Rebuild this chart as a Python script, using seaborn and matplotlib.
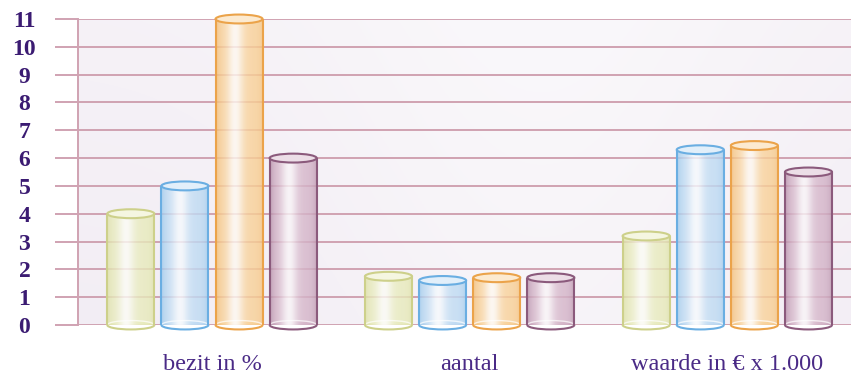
import numpy as np
import pandas as pd
import matplotlib
matplotlib.use('Agg')
import matplotlib.pyplot as plt
import seaborn as sns
from matplotlib.patches import Ellipse, Arc
from matplotlib.colors import to_rgb

CATEGORIES = ['bezit in %', 'aantal', 'waarde in € x 1.000']
SERIES = ['geel', 'blauw', 'oranje', 'paars']
VALUES_GEEL = [4.0, 1.75, 3.2]
VALUES_BLAUW = [5.0, 1.6, 6.3]
VALUES_ORANJE = [11.0, 1.7, 6.45]
VALUES_PAARS = [6.0, 1.7, 5.5]
Y_TICKS = list(range(0, 12))

FILL = ['#e8ebbc', '#bfdbf3', '#f9d197', '#d5b5c9']
EDGE = ['#cdd08a', '#6aaee2', '#eba34a', '#8b5a7c']
GRID = '#d0a2b2'
TEXT = '#3b1b72'
LABEL = '#4a2a86'

df = pd.DataFrame({
    'categorie': CATEGORIES * len(SERIES),
    'reeks': [s for s in SERIES for _ in CATEGORIES],
    'waarde': VALUES_GEEL + VALUES_BLAUW + VALUES_ORANJE + VALUES_PAARS,
})

sns.set_theme(style='white')
plt.rcParams['font.family'] = ['Liberation Serif', 'DejaVu Serif']

fig = plt.figure(figsize=(8.51, 3.76), dpi=100)
ax = fig.add_axes([78 / 851, 51 / 376, 773 / 851, 306 / 376])

# achtergrond: zachte lila gloed
yy, xx = np.mgrid[0:1:200j, 0:1:400j]
light = 0.5 + 0.3 * np.exp(-((xx - 0.6) / 0.3) ** 2) + 0.2 * yy
light = np.clip(light, 0, 1)
base = np.array(to_rgb('#ebe3ee'))
bg = base + (1 - base) * light[..., None] * 0.75
ax.imshow(bg, extent=(0, 1, 0, 1), transform=ax.transAxes, aspect='auto',
          origin='lower', zorder=0)

sns.barplot(data=df, x='categorie', y='waarde', hue='reeks', palette=FILL,
            width=0.84, gap=0.13, legend=False, ax=ax, zorder=2,
            edgecolor='none', linewidth=0)

eh = 0.32  # hoogte van de ellips in data-eenheden
t = np.linspace(0, 1, 80)
shine = np.exp(-((t - 0.4) / 0.17) ** 2)
rim = np.abs(t - 0.5) * 2


def gradient(fill, edge):
    f = np.array(to_rgb(fill))
    e = np.array(to_rgb(edge))
    col = f[None, :] + (1 - f[None, :]) * (0.85 * shine)[:, None]
    col = col * (1 - 0.45 * rim[:, None] ** 6) + e[None, :] * 0.45 * rim[:, None] ** 6
    return np.clip(col, 0, 1)[None, :, :]


for i, cont in enumerate(ax.containers):
    img = gradient(FILL[i], EDGE[i])
    for bar in cont:
        x0, w, h = bar.get_x(), bar.get_width(), bar.get_height()
        cx = x0 + w / 2
        bar.set_alpha(0)
        ax.imshow(img, extent=(x0, x0 + w, 0, h), aspect='auto',
                  zorder=3, alpha=0.8)
        bottom = Ellipse((cx, 0), w, eh, facecolor='none', edgecolor='none')
        ax.add_patch(bottom)
        low = ax.imshow(img, extent=(x0, x0 + w, -eh / 2, eh / 2), aspect='auto',
                        zorder=3, alpha=0.8)
        low.set_clip_path(bottom)
        ax.add_patch(Arc((cx, 0), w, eh, theta1=0, theta2=180,
                         color='white', lw=1.0, alpha=0.7, zorder=4))
        ax.add_patch(Arc((cx, 0), w, eh, theta1=180, theta2=360,
                         color=EDGE[i], lw=1.5, zorder=5, clip_on=False))
        ax.plot([x0, x0], [0, h], color=EDGE[i], lw=1.5, zorder=5,
                solid_capstyle='butt', clip_on=False)
        ax.plot([x0 + w, x0 + w], [0, h], color=EDGE[i], lw=1.5, zorder=5,
                solid_capstyle='butt', clip_on=False)
        top_fill = np.array(to_rgb(FILL[i])) * 0.45 + 0.55
        ax.add_patch(Ellipse((cx, h), w, eh, facecolor=top_fill,
                             edgecolor=EDGE[i], lw=1.5, zorder=6, clip_on=False))

ax.set_xlim(-0.52, 2.48)
ax.set_ylim(0, 11)
ax.set_yticks(Y_TICKS)
ax.yaxis.grid(True, color=GRID, lw=1.4, zorder=1)
ax.set_axisbelow(True)
ax.set_xlabel('')
ax.set_ylabel('')

for side in ['top', 'right', 'bottom']:
    ax.spines[side].set_visible(False)
ax.spines['left'].set_color(GRID)
ax.spines['left'].set_linewidth(1.4)

ax.tick_params(axis='y', length=16.6, width=1.4, color=GRID, pad=22,
               labelsize=17, labelcolor=TEXT, left=True)
for lbl in ax.get_yticklabels():
    lbl.set_fontweight('bold')
    lbl.set_horizontalalignment('center')

ax.tick_params(axis='x', length=0, pad=21, labelsize=17.5, labelcolor=LABEL)

fig.savefig('out.png', dpi=100)
